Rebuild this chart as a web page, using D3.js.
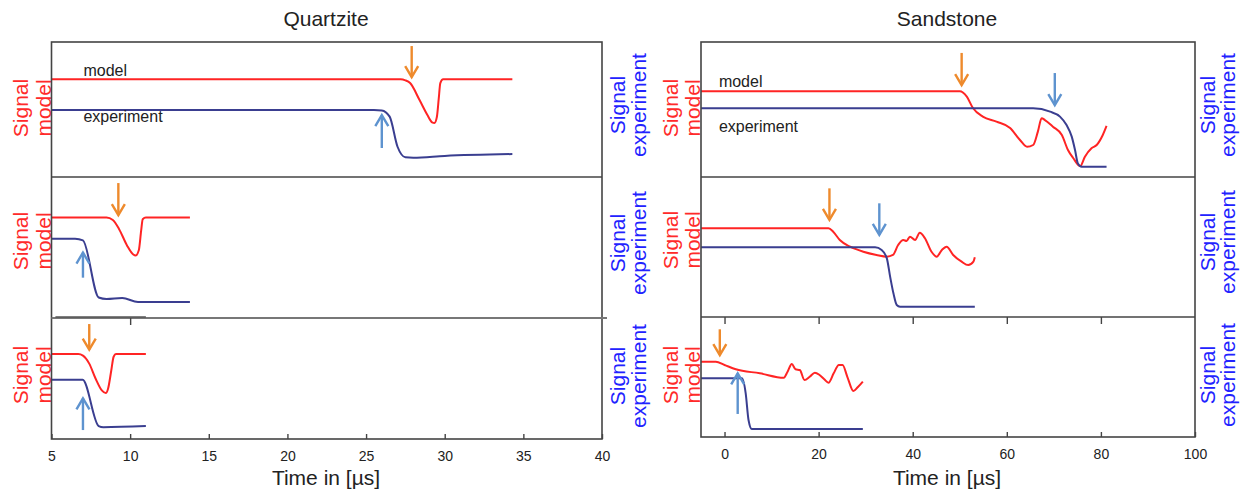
<!DOCTYPE html>
<html>
<head>
<meta charset="utf-8">
<script src="https://cdn.jsdelivr.net/npm/d3@7/dist/d3.min.js"></script>
<style>
  html, body { margin: 0; padding: 0; background: #fff; }
  svg { display: block; font-family: "Liberation Sans", Arial, sans-serif; }
</style>
</head>
<body>
<svg id="chart" width="1246" height="491"></svg>
<script>
// ---------------- DATA ----------------
// Time axes (µs)
const quartziteDomain = [5, 40];
const sandstoneDomain = [-5, 100];
const quartziteTicks = [5, 10, 15, 20, 25, 30, 35, 40];
const sandstoneTicks = [0, 20, 40, 60, 80, 100];

// Quartzite (left), [time µs, relative signal 0..100 within each panel]
const qModelA = [[5,72.4],[27.2,72.4],[27.5,71.6],[27.8,69.6],[28.4,57],[28.9,45.9],[29.2,40.5],[29.35,40],[29.5,44.4],[29.62,58],[29.72,69.6],[29.9,72.4],[34.3,72.4]];
const qExpA   = [[5,49.6],[25.5,49.6],[26.0,49.3],[26.5,44.7],[27.0,22.4],[27.5,14.6],[28,14.3],[30,15.6],[34.3,17.0]];
const qModelB = [[5,71.2],[8.5,71.2],[8.9,69.5],[9.3,63],[9.8,51.5],[10.2,45],[10.35,44.3],[10.55,48],[10.7,62],[10.8,70],[11.0,71.2],[13.8,71.2]];
const qExpB   = [[5,56.2],[6.5,56.2],[7.0,55.0],[8.0,14.5],[8.5,13.4],[9.5,14.1],[10.5,11.4],[13.8,11.4]];
const qModelC = [[5,70.2],[6.7,70.2],[7.0,68.9],[7.4,62.3],[7.8,50],[8.2,40.2],[8.45,38],[8.6,41.8],[8.8,56.6],[8.95,68],[9.1,70.2],[11,70.2]];
const qExpC   = [[5,48.9],[6.98,48.9],[8.0,10.7],[8.3,9.8],[11,10.7]];

// Sandstone (right)
const sModelA = [[-5,63.5],[50.0,63.5],[51.5,59.5],[52.8,51.1],[54.9,44.7],[57.8,41],[60.7,36.3],[62.8,27.4],[64.3,22.4],[65.6,23.7],[66.6,33.6],[67.4,43.5],[68.1,42.2],[69.8,37.3],[71.7,31.1],[73,20],[74.1,14.1],[75.6,8.1],[76.6,15],[78,21.3],[79.1,23.7],[80.4,31.1],[81.2,37.8]];
const sExpA   = [[-5,50.9],[65.6,50.9],[69.2,48.4],[71.3,44.7],[72.7,38.5],[73.8,29.9],[74.5,20],[75.1,10.1],[75.9,7.6],[81.2,7.6]];
const sModelB = [[-5,63.4],[22.1,63.4],[23.1,60.9],[24.5,55],[26.7,50.2],[29.5,46.6],[32.3,44.3],[34.5,43.1],[35.8,44.3],[36.9,51.4],[38,55],[38.7,54.3],[39.4,57.4],[40.5,55],[41.5,60.2],[42.6,56.2],[44,46.6],[45.1,43.1],[46.2,47.9],[47.2,50.2],[48.6,44.3],[50.4,39.5],[51.8,37.1],[52.9,39.5],[53.2,42.6]];
const sExpB   = [[-5,49.8],[32,49.8],[33.4,47.9],[34.5,41.9],[35.2,28.8],[35.9,16.9],[36.6,8.6],[37.3,7.4],[53.2,7.4]];
const sModelC = [[-5,62.75],[-1.85,62.75],[0,60],[2.4,56.4],[7.5,53.1],[12.6,49.4],[13.4,54.4],[14.3,60.8],[15.1,56.4],[16,55.8],[17,47.5],[18.1,50.2],[19.2,53.6],[20.2,51.7],[21.2,48.1],[22.1,45.2],[23.2,53.1],[24.3,60],[25.1,60],[26.1,50.2],[27.4,38.3],[28.3,41.4],[29.4,46.1]];
const sExpC   = [[-5,48.9],[3.7,48.9],[4.5,36.4],[5.1,14.2],[5.8,6.7],[29.4,6.7]];

// Arrows: [time, from, to] (signal units)
const qOrange = [[27.9,97,74],[9.25,95.7,72.9],[7.4,95,73.8]];
const qBlue   = [[26.0,21.5,45.9],[7.0,28.6,46.4],[7.0,7.4,33.6]];
const sOrange = [[50.4,91.9,68.1],[22.3,91.9,69.3],[-1.0,89.75,68.3]];
const sBlue   = [[70.2,77,53.3],[32.9,81.2,58.6],[2.8,19.2,53.1]];

// Text
const chartTitles = ["Quartzite", "Sandstone"];
const xTitle = "Time in [µs]";
const leftLabel = ["Signal", "model"];
const rightLabel = ["Signal", "experiment"];
const seriesNames = ["model", "experiment"];
// annotation positions [time, signal] for left / right top panels
const qNamePos = [[7.03,74.8],[7.03,40.7]];
const sNamePos = [[-1.2,66.7],[-1.2,33.6]];

// ---------------- DRAWING ----------------
const svg = d3.select("#chart");
const RED = "#ff2424", NAVY = "#3a3e90", ORANGE = "#ee8a2c", SKY = "#5e93cf";
const TXT_RED = "#ff2a2a", TXT_BLUE = "#2222ff", FRAME = "#444";

const sides = [
  {
    name: chartTitles[0], x: d3.scaleLinear(quartziteDomain, [51.5, 602]), ticks: quartziteTicks,
    rows: [[42,177],[177,318],[318,439]],
    models: [qModelA,qModelB,qModelC], exps: [qExpA,qExpB,qExpC],
    orange: qOrange, blue: qBlue, names: qNamePos,
    labL: {x1: 28, x2: 51, cy: [108,241,375]},
    labR: {x1: 625, x2: 646, cy: [105,243,376]},
    titleX: 326
  },
  {
    name: chartTitles[1], x: d3.scaleLinear(sandstoneDomain, [701, 1195]), ticks: sandstoneTicks,
    rows: [[42,177],[177,317],[317,437]],
    models: [sModelA,sModelB,sModelC], exps: [sExpA,sExpB,sExpC],
    orange: sOrange, blue: sBlue, names: sNamePos,
    labL: {x1: 678, x2: 700, cy: [108,240,375]},
    labR: {x1: 1215, x2: 1235, cy: [105,242,375]},
    titleX: 947
  }
];

function arrow(g, x, y0, y1, color) {
  const dir = Math.sign(y1 - y0);
  g.append("line").attr("x1", x).attr("x2", x).attr("y1", y0).attr("y2", y1)
    .attr("stroke", color).attr("stroke-width", 2.4);
  g.append("path")
    .attr("d", `M${x-6.5},${y1 - dir*11} L${x},${y1} L${x+6.5},${y1 - dir*11}`)
    .attr("fill", "none").attr("stroke", color).attr("stroke-width", 2.4)
    .attr("stroke-linejoin", "miter");
}

function rotLabel(x, cy, text, color) {
  svg.append("text").attr("transform", `translate(${x},${cy}) rotate(-90)`)
    .attr("text-anchor", "middle").attr("font-size", 21).attr("fill", color).text(text);
}

sides.forEach((s, si) => {
  const x = s.x;
  const [xl, xr] = x.range();
  const top = s.rows[0][0], bottom = s.rows[2][1];

  // title
  svg.append("text").attr("x", s.titleX).attr("y", 26).attr("text-anchor", "middle")
    .attr("font-size", 21).attr("fill", "#222").text(s.name);

  s.rows.forEach((r, ri) => {
    const y = d3.scaleLinear([0, 100], [r[1], r[0]]);
    const line = d3.line().x(d => x(d[0])).y(d => y(d[1])).curve(d3.curveMonotoneX);
    svg.append("path").datum(s.models[ri]).attr("d", line)
      .attr("fill", "none").attr("stroke", RED).attr("stroke-width", 2);
    svg.append("path").datum(s.exps[ri]).attr("d", line)
      .attr("fill", "none").attr("stroke", NAVY).attr("stroke-width", 2);
    const g = svg.append("g");
    const o = s.orange[ri], b = s.blue[ri];
    arrow(g, x(o[0]), y(o[1]), y(o[2]), ORANGE);
    arrow(g, x(b[0]), y(b[1]), y(b[2]), SKY);
    if (ri === 0) {
      s.names.forEach((p, k) => {
        svg.append("text").attr("x", x(p[0])).attr("y", y(p[1]))
          .attr("font-size", 16).attr("fill", "#222").text(seriesNames[k]);
      });
    }
    // axis titles on both sides
    rotLabel(s.labL.x1, s.labL.cy[ri], leftLabel[0], TXT_RED);
    rotLabel(s.labL.x2, s.labL.cy[ri], leftLabel[1], TXT_RED);
    rotLabel(s.labR.x1, s.labR.cy[ri], rightLabel[0], TXT_BLUE);
    rotLabel(s.labR.x2, s.labR.cy[ri], rightLabel[1], TXT_BLUE);
  });

  // frame
  svg.append("rect").attr("x", xl).attr("y", top).attr("width", xr - xl).attr("height", bottom - top)
    .attr("fill", "none").attr("stroke", FRAME).attr("stroke-width", 1.6);
  // separators
  svg.append("line").attr("x1", xl).attr("x2", xr).attr("y1", s.rows[1][0]).attr("y2", s.rows[1][0])
    .attr("stroke", FRAME).attr("stroke-width", 1.6);
  svg.append("line").attr("x1", xl).attr("x2", si === 0 ? xr + 5 : xr)
    .attr("y1", s.rows[2][0]).attr("y2", s.rows[2][0])
    .attr("stroke", si === 0 ? "#777" : FRAME).attr("stroke-width", si === 0 ? 2.2 : 1.6);

  // bottom axis, inward ticks
  const ax = svg.append("g").attr("transform", `translate(0,${bottom})`)
    .call(d3.axisBottom(x).tickValues(s.ticks).tickSize(-5).tickPadding(12));
  ax.select(".domain").remove();
  ax.selectAll(".tick line").attr("stroke", FRAME).attr("stroke-width", 1.4);
  ax.selectAll(".tick text").attr("font-size", 14).attr("fill", "#222")
    .attr("font-family", "Liberation Sans, Arial, sans-serif");

  // ticks at top of bottom row
  const topTicks = si === 0 ? [10] : s.ticks.slice(0, -1);
  const tx = svg.append("g").attr("transform", `translate(0,${s.rows[2][0]})`)
    .call(d3.axisBottom(x).tickValues(topTicks).tickSize(7).tickFormat(""));
  tx.select(".domain").remove();
  tx.selectAll(".tick line").attr("stroke", FRAME).attr("stroke-width", 1.4);
  if (si === 0) {
    svg.append("line").attr("x1", x(5.25)).attr("x2", x(11)).attr("y1", s.rows[2][0] - 1).attr("y2", s.rows[2][0] - 1)
      .attr("stroke", "#555").attr("stroke-width", 1.6);
  }

  // x title
  svg.append("text").attr("x", s.titleX).attr("y", 485).attr("text-anchor", "middle")
    .attr("font-size", 21).attr("fill", "#222").text(xTitle);
});
</script>
</body>
</html>
